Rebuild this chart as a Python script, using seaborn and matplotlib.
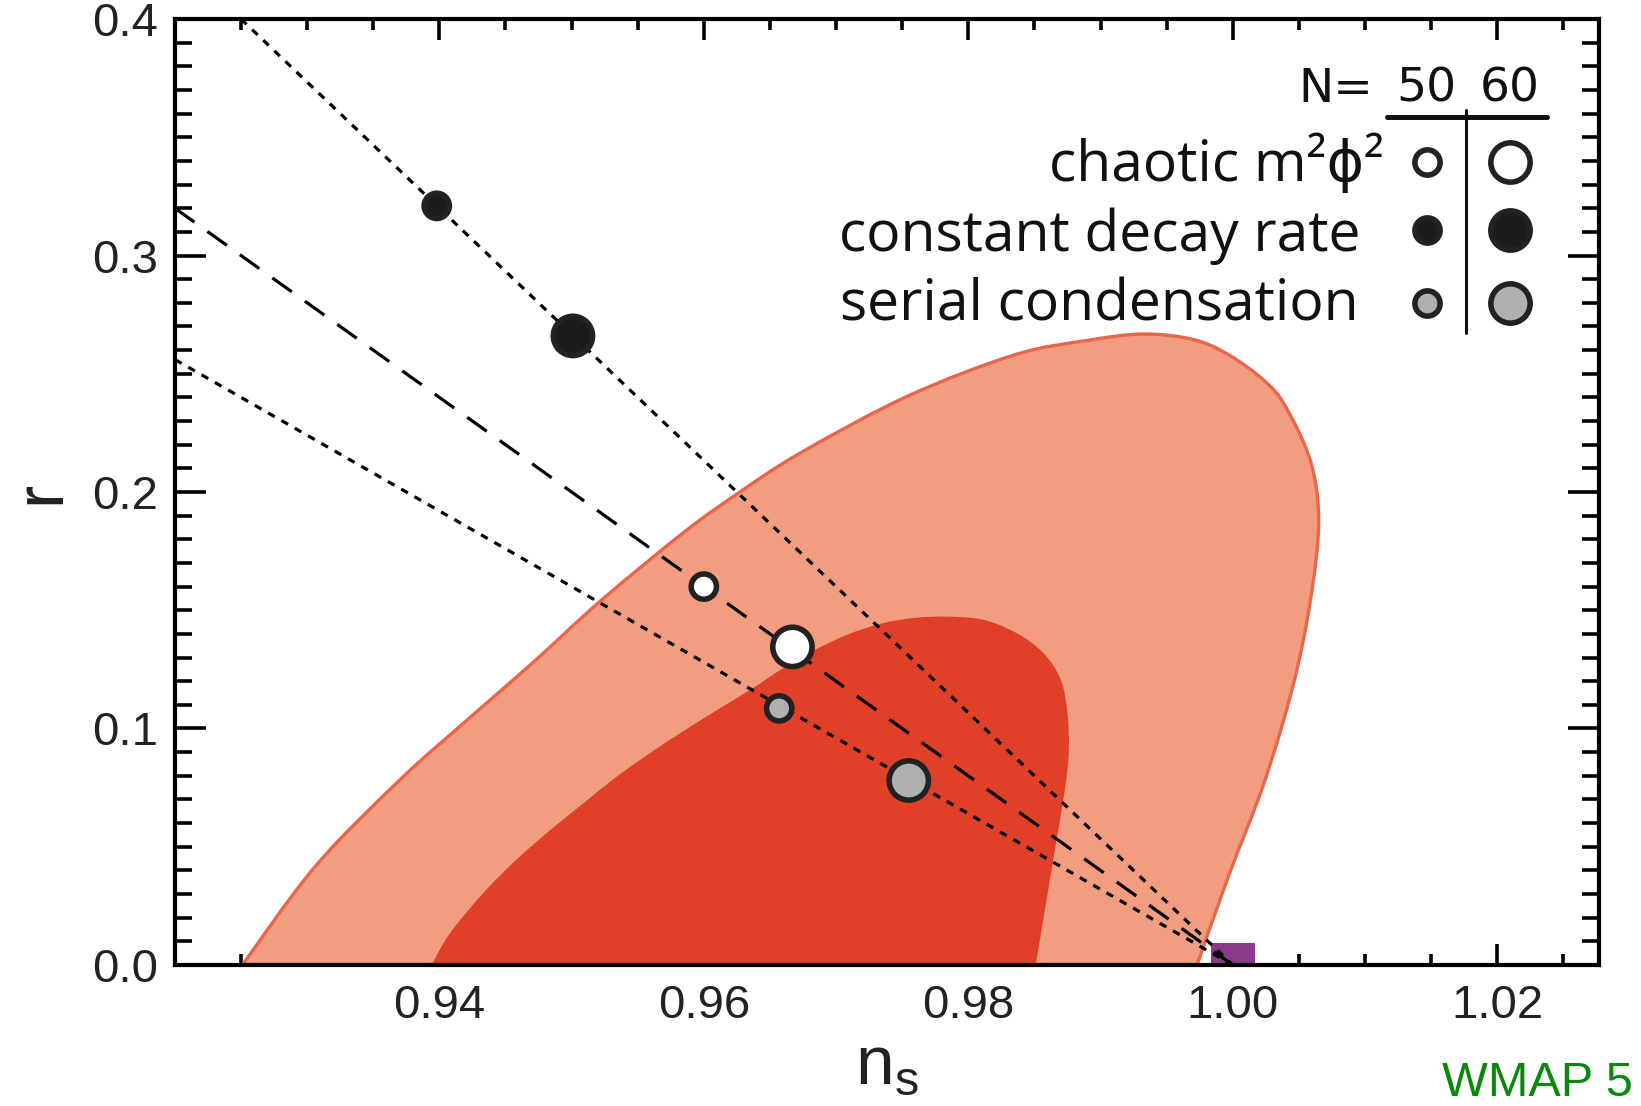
import matplotlib
matplotlib.use("Agg")
import matplotlib.pyplot as plt
from matplotlib.path import Path
from matplotlib.patches import PathPatch
from matplotlib.ticker import MultipleLocator, FormatStrFormatter
import seaborn as sns
import numpy as np
import pandas as pd

# model predictions (n_s, r) for N = 50 and N = 60 e-folds
efolds = [50, 60]
ns_chaotic = [0.9600, 0.9667]
r_chaotic = [0.160, 0.1345]
ns_decay = [0.9398, 0.9501]
r_decay = [0.321, 0.266]
ns_serial = [0.9657, 0.9755]
r_serial = [0.1085, 0.078]

# the three model lines, all running into (1, 0)
line_ns_chaotic = [0.920, 1.0]
line_r_chaotic = [0.320, 0.0]
line_ns_decay = [0.925, 1.0]
line_r_decay = [0.400, 0.0]
line_ns_serial = [0.920, 1.0]
line_r_serial = [0.256, 0.0]

# WMAP 5 confidence regions
outer_ns = [0.9251, 0.9306, 0.9370, 0.9421, 0.9471, 0.9522, 0.9585,
            0.9626, 0.9673, 0.9754, 0.9835, 0.9889, 0.9932, 0.9970, 0.9997,
            1.0024, 1.0040, 1.0059, 1.0065, 1.0059, 1.0046, 1.0024, 0.9997,
            0.9973]
outer_r = [0.0, 0.0416, 0.0782, 0.1036, 0.1280, 0.1540, 0.1830,
           0.1995, 0.2165, 0.2405, 0.2580, 0.2640, 0.2668, 0.2645, 0.2580,
           0.2470, 0.2361, 0.2127, 0.1875, 0.1550, 0.1190, 0.0775, 0.0379,
           0.0]
inner_ns = [0.9394, 0.9408, 0.9433, 0.9458, 0.9484, 0.9509, 0.9534, 0.9559,
            0.9584, 0.9610, 0.9635, 0.9660, 0.9685, 0.9710, 0.9735, 0.9760,
            0.9785, 0.9812, 0.9837, 0.9857, 0.9870, 0.9875, 0.9876, 0.9873,
            0.9865, 0.9851]
inner_r = [0.0, 0.0134, 0.0303, 0.0444, 0.0571, 0.0684, 0.0796, 0.0895,
           0.0987, 0.1078, 0.1163, 0.1255, 0.1335, 0.1400, 0.1445, 0.1468,
           0.1473, 0.1459, 0.1402, 0.1318, 0.1205, 0.1064, 0.0900, 0.0740,
           0.0470, 0.0]

# Harrison-Zeldovich point
hz_ns = [1.0]
hz_r = [0.0]


def smooth_region(xs, ys):
    # closed path through the read points, drawn with Catmull-Rom bezier pieces
    p = np.column_stack([xs, ys])
    ext = np.vstack([p[0], p, p[-1]])
    verts = [p[0]]
    codes = [Path.MOVETO]
    for i in range(1, len(ext) - 2):
        p0, p1, p2, p3 = ext[i - 1], ext[i], ext[i + 1], ext[i + 2]
        verts += [p1 + (p2 - p0) / 6, p2 - (p3 - p1) / 6, p2]
        codes += [Path.CURVE4] * 3
    verts.append(p[0])
    codes.append(Path.LINETO)
    return Path(verts, codes)


sns.set_style("ticks")
plt.rcParams["font.family"] = ["Liberation Sans Narrow", "Liberation Sans", "DejaVu Sans"]
plt.rcParams["mathtext.fontset"] = "custom"
plt.rcParams["mathtext.rm"] = "Liberation Sans"

fill_colors = {"chaotic": "white", "decay": "#1c1c1c", "serial": "#b0b0b0"}
edge = "#222222"
sizes = {50: 330, 60: 800}
edge_w = 4.0

points = pd.DataFrame({
    "ns": ns_chaotic + ns_decay + ns_serial,
    "r": r_chaotic + r_decay + r_serial,
    "model": ["chaotic"] * 2 + ["decay"] * 2 + ["serial"] * 2,
    "N": efolds * 3,
})

fig = plt.figure(figsize=(16.41, 11.06), dpi=100)
ax = fig.add_axes([0.1066, 0.1275, 0.8678, 0.8553])

ax.add_patch(PathPatch(smooth_region(outer_ns, outer_r), facecolor="#f29c80",
                       edgecolor="#ea6549", lw=2.4, zorder=1))
ax.add_patch(PathPatch(smooth_region(inner_ns, inner_r), facecolor="#e04028",
                       edgecolor="none", zorder=1.5))

ax.scatter(hz_ns, hz_r, marker="s", s=1000, color="#8a3a8a", lw=0, zorder=2)

dotted = (0, (2.4, 2.4))
dashed = (0, (7.5, 5.0))
sns.lineplot(x=line_ns_decay, y=line_r_decay, ax=ax, color="black", lw=2.3,
             linestyle=dotted, zorder=3)
sns.lineplot(x=line_ns_chaotic, y=line_r_chaotic, ax=ax, color="black", lw=2.3,
             linestyle=dashed, zorder=3)
sns.lineplot(x=line_ns_serial, y=line_r_serial, ax=ax, color="black", lw=2.3,
             linestyle=dotted, zorder=3)

sns.scatterplot(data=points, x="ns", y="r", hue="model", palette=fill_colors,
                size="N", sizes=sizes, edgecolor=edge, linewidth=edge_w,
                legend=False, ax=ax, zorder=4)

ax.set_xlim(0.92, 1.0277)
ax.set_ylim(0.0, 0.4)
ax.set_xticks([0.94, 0.96, 0.98, 1.00, 1.02])
ax.set_yticks([0.0, 0.1, 0.2, 0.3, 0.4])
ax.xaxis.set_major_formatter(FormatStrFormatter("%.2f"))
ax.yaxis.set_major_formatter(FormatStrFormatter("%.1f"))
ax.xaxis.set_minor_locator(MultipleLocator(0.005))
ax.yaxis.set_minor_locator(MultipleLocator(0.01))
ax.tick_params(which="both", direction="in", top=True, right=True, width=2.6,
               color="black", labelsize=34, labelcolor="#222222")
ax.tick_params(axis="x", which="major", length=15, pad=14)
ax.tick_params(axis="x", which="minor", length=8)
ax.tick_params(axis="y", which="major", length=22, pad=12)
ax.tick_params(axis="y", which="minor", length=12)
for sp in ax.spines.values():
    sp.set_linewidth(3.0)
    sp.set_color("black")
    sp.set_zorder(6)

ax.set_xlabel(r"n$_\mathregular{s}$", fontsize=50, color="#222222",
              family="Liberation Sans", labelpad=4)
ax.set_ylabel("r", fontsize=50, color="#222222", family="Liberation Sans",
              labelpad=14)

# hand-made legend table in the upper right
lf = ["Open Sans", "DejaVu Sans"]
ax.text(0.8413, 0.9128, "N=", transform=ax.transAxes, ha="right", va="baseline",
        fontsize=34, family="Liberation Sans Narrow", color="#111111")
ax.text(0.8789, 0.9128, "50", transform=ax.transAxes, ha="center", va="baseline",
        fontsize=34, family="Liberation Sans Narrow", color="#111111")
ax.text(0.9375, 0.9128, "60", transform=ax.transAxes, ha="center", va="baseline",
        fontsize=34, family="Liberation Sans Narrow", color="#111111")
ax.plot([0.8511, 0.9635], [0.8964, 0.8964], transform=ax.transAxes,
        color="#111111", lw=3.6, clip_on=False, zorder=5)
ax.plot([0.9066, 0.9066], [0.9038, 0.6681], transform=ax.transAxes,
        color="#111111", lw=2.2, clip_on=False, zorder=5)

rows = [("chaotic m\u00b2\u03d5\u00b2", "chaotic", 0.8487, 0.8288, 0.8488),
        ("constant decay rate", "decay", 0.8326, 0.7548, 0.7770),
        ("serial condensation", "serial", 0.8312, 0.6818, 0.6993)]
for label, key, xr, yb, ym in rows:
    ax.text(xr, yb, label, transform=ax.transAxes, ha="right", va="baseline",
            fontsize=41, family=lf, color="#111111")
    for xm, n in [(0.8789, 50), (0.9375, 60)]:
        ax.scatter([xm], [ym], s=sizes[n], color=fill_colors[key],
                   edgecolor=edge, linewidth=edge_w, transform=ax.transAxes,
                   clip_on=False, zorder=5)

fig.text(0.995, 0.009, "WMAP 5", ha="right", va="baseline", fontsize=35,
         color="#0a880a", family="Liberation Sans")

fig.savefig("out.png", dpi=100, facecolor="white")
